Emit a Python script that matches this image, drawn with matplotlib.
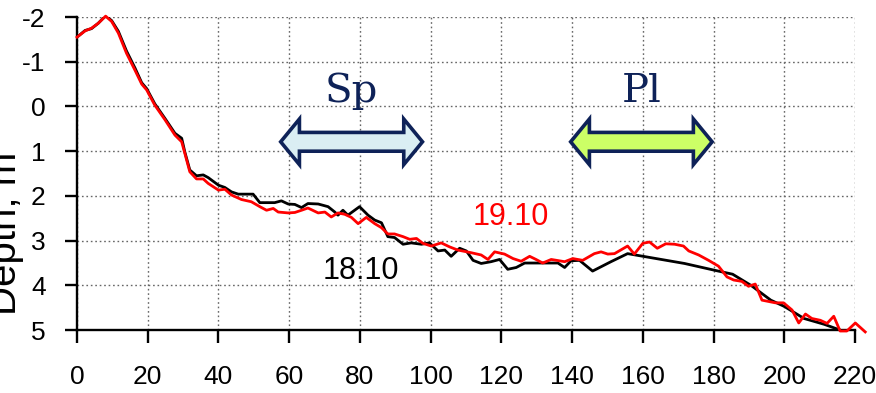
import numpy as np
from matplotlib import pyplot as plt
from matplotlib.patches import Polygon

# survey of 18.10 (black)
x_1810 = [0, 2.3, 4.1, 6.0, 8.1, 9.8, 11.7, 14.0, 16.4, 18.3, 19.7, 22.0, 24.9, 27.7,
          29.6, 30.5, 31.9, 33.8, 35.7, 37.1, 40.0, 41.8, 43.7, 45.6, 49.8, 51.7, 55.9,
          57.8, 59.7, 61.6, 63.5, 65.3, 68.2, 71.0, 72.9, 73.8, 75.2, 76.6, 79.9, 82.3,
          84.2, 86.1, 87.9, 89.8, 92.2, 94.5, 97.4, 99.7, 102.1, 104.0, 105.8, 108.2,
          110.1, 112.0, 114.3, 117.1, 119.5, 121.8, 124.2, 126.6, 129.4, 136.0, 137.9,
          139.7, 142.1, 145.8, 151.0, 155.7, 171.8, 180.2, 185.4, 190.6, 196.2, 200.0,
          205.6, 211.3, 215.5]
d_1810 = [-1.55, -1.70, -1.74, -1.86, -2.03, -1.92, -1.68, -1.24, -0.86, -0.53, -0.40,
          -0.06, 0.27, 0.60, 0.71, 1.02, 1.42, 1.55, 1.53, 1.59, 1.76, 1.81, 1.91, 1.96,
          1.96, 2.15, 2.15, 2.11, 2.18, 2.19, 2.26, 2.17, 2.18, 2.24, 2.36, 2.43, 2.32,
          2.43, 2.24, 2.43, 2.54, 2.60, 2.91, 2.93, 3.08, 3.05, 3.08, 3.05, 3.23, 3.21,
          3.35, 3.17, 3.23, 3.44, 3.51, 3.47, 3.42, 3.64, 3.60, 3.50, 3.50, 3.50, 3.60,
          3.45, 3.44, 3.68, 3.47, 3.29, 3.51, 3.66, 3.75, 4.00, 4.33, 4.47, 4.74, 4.87,
          4.99]

# survey of 19.10 (red)
x_1910 = [0, 2.3, 4.1, 6.0, 8.1, 9.8, 11.7, 14.0, 16.4, 18.3, 19.7, 22.0, 24.9, 27.7,
          29.6, 30.5, 31.9, 33.8, 35.7, 37.1, 40.0, 41.8, 43.7, 46.5, 49.3, 51.7, 53.6,
          55.5, 56.9, 59.7, 61.6, 63.5, 65.3, 68.2, 70.1, 71.9, 73.8, 75.7, 77.6, 79.5,
          81.8, 84.2, 86.1, 87.9, 89.8, 92.2, 94.1, 96.0, 97.8, 100.2, 103.0, 105.4,
          107.7, 111.5, 114.3, 116.2, 118.1, 120.9, 123.3, 125.6, 128.0, 129.8, 131.7,
          134.1, 137.9, 140.2, 143.0, 146.3, 148.2, 150.1, 152.0, 155.7, 157.6, 160.0,
          161.9, 164.1, 166.5, 169.0, 171.5, 173.0, 175.8, 178.6, 181.4, 183.8, 185.7,
          188.0, 189.9, 191.8, 193.7, 197.5, 199.8, 202.2, 204.1, 206.0, 207.8, 210.2,
          212.1, 214.0, 215.8, 217.7, 220.1, 222.9]
d_1910 = [-1.55, -1.69, -1.75, -1.86, -2.02, -1.90, -1.64, -1.19, -0.81, -0.50, -0.37,
          -0.03, 0.30, 0.64, 0.79, 1.05, 1.46, 1.62, 1.62, 1.72, 1.87, 1.85, 1.98, 2.08,
          2.13, 2.24, 2.32, 2.28, 2.36, 2.38, 2.37, 2.32, 2.27, 2.38, 2.36, 2.47, 2.38,
          2.41, 2.48, 2.62, 2.48, 2.62, 2.71, 2.85, 2.85, 2.91, 2.97, 2.95, 3.06, 3.12,
          3.05, 3.14, 3.21, 3.27, 3.32, 3.42, 3.25, 3.30, 3.40, 3.46, 3.35, 3.42, 3.50,
          3.42, 3.47, 3.40, 3.44, 3.29, 3.25, 3.30, 3.29, 3.12, 3.30, 3.06, 3.03, 3.17,
          3.07, 3.08, 3.12, 3.23, 3.32, 3.44, 3.57, 3.81, 3.88, 3.91, 4.02, 3.97, 4.33,
          4.39, 4.39, 4.55, 4.84, 4.64, 4.74, 4.78, 4.85, 4.69, 5.02, 5.02, 4.84, 5.04]

# zones marked with double arrows
zone_names = ['Sp', 'Pl']
zone_start = [57.6, 139.6]
zone_end = [97.7, 179.6]
zone_fill = ['#DAEEF3', '#CCFF66']
zone_depth = 0.79

x_ticks = np.arange(0, 221, 20)
y_ticks = np.arange(-2, 6, 1)

plt.rcParams['font.family'] = ['Liberation Sans', 'DejaVu Sans']
plt.rcParams['axes.unicode_minus'] = False

fig = plt.figure(figsize=(8.76, 3.93), dpi=100)
ax = fig.add_axes([0.0879, 0.160, 0.8881, 0.7967])

ax.plot(x_1810, d_1810, color='black', lw=2.0, zorder=3)
ax.plot(x_1910, d_1910, color='#FF0000', lw=2.0, zorder=4, clip_on=False)

ax.set_xlim(0, 220)
ax.set_ylim(5, -2)
ax.set_xticks(x_ticks)
ax.set_yticks(y_ticks)
ax.grid(True, color='#666666', linestyle=(0, (1.2, 2.0)), lw=1.0)
for s in ['top', 'right']:
    ax.spines[s].set_visible(False)
for s in ['left', 'bottom']:
    ax.spines[s].set_linewidth(1.7)
ax.tick_params(axis='x', length=9.4, width=1.7, pad=16, labelsize=19)
ax.tick_params(axis='y', length=8.6, width=1.7, pad=14, labelsize=19)

fig.text(0.0183, 0.405, 'Depth, m', rotation=90, rotation_mode='anchor',
         ha='center', va='baseline', fontsize=29)

# double-headed block arrows with their labels
half_head, half_shaft, head_len = 0.51, 0.21, 5.3
for name, x0, x1, fc in zip(zone_names, zone_start, zone_end, zone_fill):
    yc = zone_depth
    pts = [(x0, yc), (x0 + head_len, yc - half_head), (x0 + head_len, yc - half_shaft),
           (x1 - head_len, yc - half_shaft), (x1 - head_len, yc - half_head), (x1, yc),
           (x1 - head_len, yc + half_head), (x1 - head_len, yc + half_shaft),
           (x0 + head_len, yc + half_shaft), (x0 + head_len, yc + half_head)]
    ax.add_patch(Polygon(pts, closed=True, facecolor=fc, edgecolor='#0E2258',
                         lw=2.6, joinstyle='miter', zorder=5))
    ax.text((x0 + x1) / 2, -0.33, name, ha='center', va='center', fontsize=29,
            family='DejaVu Serif', color='#0E2258', zorder=5)

ax.text(111.9, 2.65, '19.10', color='#FF0000', fontsize=22, ha='left', va='baseline')
ax.text(69.5, 3.86, '18.10', color='black', fontsize=22, ha='left', va='baseline')

plt.savefig('out.png', dpi=100)
